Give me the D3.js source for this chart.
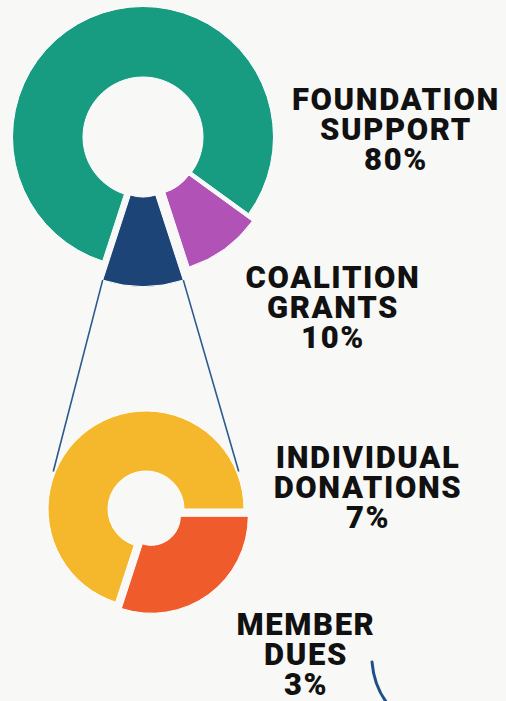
<!DOCTYPE html>
<html>
<head>
<meta charset="utf-8">
<script src="https://cdn.jsdelivr.net/npm/d3@7"></script>
<style>
  html, body { margin: 0; padding: 0; background: #f8f8f7; }
  svg { display: block; }
</style>
</head>
<body>
<script>
// Funding sources (top ring) and the breakdown of the small slice (bottom ring)
const topKeys = ["foundation", "coalition", "individualMember"];
const topValues = [80, 10, 10];
const subKeys = ["individual", "member"];
const subValues = [7, 3];

// label text, one array per line
const labelNames = [["FOUNDATION", "SUPPORT"], ["COALITION", "GRANTS"], ["INDIVIDUAL", "DONATIONS"], ["MEMBER", "DUES"]];
const labelValues = [80, 10, 7, 3];

const W = 506, H = 701;

const topColors = ["#179c82", "#b153b6", "#1c4476"];
const subColors = ["#f5b82d", "#ef5b2b"];

// layout
const topCenter = [143, 137];
const topInner = 60, topOuter = 130.5;
const topExplode = [0, 12, 19];
const topTrim = [0, 4, 0];
const subCenter = [146, 509];
const subInner = 38, subOuter = 98;
const subExplode = [0, 9];
const subTrim = [0, 1];
const labelPos = [[396, 110], [333, 288], [368, 468], [306, 635]];
const lineGap = 30;

const svg = d3.select("body").append("svg").attr("width", W).attr("height", H);
svg.append("rect").attr("width", W).attr("height", H).attr("fill", "#f8f8f7");

// both rings start at the same angle, no sorting
const pie = d3.pie().sort(null).startAngle(1.1 * Math.PI).endAngle(3.1 * Math.PI);

function offsetOf(d, off) {
  const mid = (d.startAngle + d.endAngle) / 2;
  return [off * Math.sin(mid), -off * Math.cos(mid)];
}

function drawRing(values, colors, center, rIn, rOut, explode, trim) {
  const arcs = pie(values);
  const g = svg.append("g").attr("transform", `translate(${center[0]},${center[1]})`);
  g.selectAll("path")
    .data(arcs)
    .join("path")
    .attr("d", (d, i) =>
      d3.arc().innerRadius(rIn - explode[i]).outerRadius(rOut - trim[i])(d)
    )
    .attr("transform", (d, i) => {
      const [dx, dy] = offsetOf(d, explode[i]);
      return `translate(${dx},${dy})`;
    })
    .attr("fill", (d, i) => colors[i])
    .attr("stroke", "#fff")
    .attr("stroke-width", 1);
  return arcs;
}

const topArcs = drawRing(topValues, topColors, topCenter, topInner, topOuter, topExplode, topTrim);
drawRing(subValues, subColors, subCenter, subInner, subOuter, subExplode, subTrim);

// connector lines from the exploded slice down to the bottom ring
const src = topArcs[2];
const [ox, oy] = offsetOf(src, topExplode[2]);
const cornerAt = (a) => [
  topCenter[0] + ox + topOuter * Math.sin(a),
  topCenter[1] + oy - topOuter * Math.cos(a),
];
const ringAt = (a) => [
  subCenter[0] + (subOuter + 2) * Math.sin(a),
  subCenter[1] - (subOuter + 2) * Math.cos(a),
];
const tangentAngle = 68 * Math.PI / 180;
const connectors = [
  [cornerAt(src.endAngle), ringAt(-tangentAngle)],
  [cornerAt(src.startAngle), ringAt(tangentAngle)],
];
svg.append("g")
  .selectAll("line")
  .data(connectors)
  .join("line")
  .attr("x1", (d) => d[0][0])
  .attr("y1", (d) => d[0][1])
  .attr("x2", (d) => d[1][0])
  .attr("y2", (d) => d[1][1])
  .attr("stroke", "#2b5a8e")
  .attr("stroke-width", 1.6);

// labels
const labels = svg.append("g")
  .attr("font-family", "Roboto, 'Noto Sans', sans-serif")
  .attr("font-weight", 900)
  .attr("font-size", 31)
  .attr("letter-spacing", 1.6)
  .attr("fill", "#111")
  .attr("text-anchor", "middle")
  .selectAll("text")
  .data(labelNames)
  .join("text")
  .attr("x", (d, i) => labelPos[i][0])
  .attr("y", (d, i) => labelPos[i][1]);

labels.selectAll("tspan")
  .data((d, i) => [...d, labelValues[i] + "%"])
  .join("tspan")
  .attr("x", function () { return d3.select(this.parentNode).attr("x"); })
  .attr("dy", (d, j) => (j === 0 ? 0 : lineGap))
  .text((d) => d);

// decorative pen stroke at the bottom
const deco = d3.path();
deco.moveTo(372, 662);
deco.quadraticCurveTo(374, 686, 387, 703);
svg.append("path")
  .attr("d", deco.toString())
  .attr("fill", "none")
  .attr("stroke", "#1f4f88")
  .attr("stroke-width", 3)
  .attr("stroke-linecap", "round");
</script>
</body>
</html>
